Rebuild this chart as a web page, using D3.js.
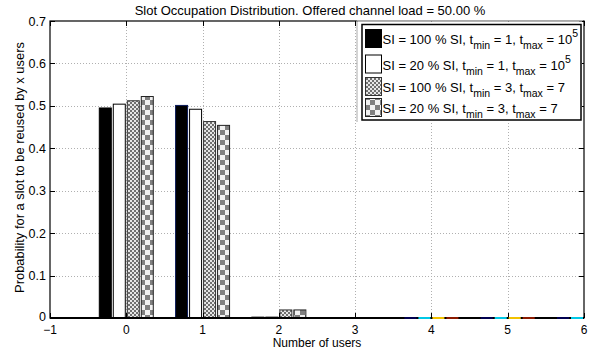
<!DOCTYPE html>
<html><head><meta charset="utf-8">
<script src="https://cdn.jsdelivr.net/npm/d3@7"></script>
<style>body{margin:0;background:#fff}svg{display:block;font-family:"Liberation Sans",Arial,Helvetica,sans-serif}</style>
</head><body><svg id="c" width="601" height="351"></svg>
<script>
const title = "Slot Occupation Distribution. Offered channel load = 50.00 %";
const xLabel = "Number of users";
const yLabel = "Probability for a slot to be reused by x users";
const categories = [0, 1, 2, 3, 4, 5, 6];
const xTicks = [-1, 0, 1, 2, 3, 4, 5, 6];
const yTicks = [0, 0.1, 0.2, 0.3, 0.4, 0.5, 0.6, 0.7];
const sNames = [
  ["SI = 100 % SI, t", "min", " = 1, t", "max", " = 10", "5"],
  ["SI = 20 % SI, t", "min", " = 1, t", "max", " = 10", "5"],
  ["SI = 100 % SI, t", "min", " = 3, t", "max", " = 7", ""],
  ["SI = 20 % SI, t", "min", " = 3, t", "max", " = 7", ""]
];
const s1 = [0.495, 0.501, 0.002, 0, 0, 0, 0];
const s2 = [0.504, 0.492, 0.002, 0, 0, 0, 0];
const s3 = [0.512, 0.463, 0.019, 0.0005, 0, 0, 0];
const s4 = [0.522, 0.454, 0.019, 0.0005, 0, 0, 0];
const series = [s1, s2, s3, s4];
const zeroEdgeColors = ["#000050", "#00c8e6", "#f2c200", "#8c1a00"];

const svg = d3.select("#c");
const L = 50, R = 584, T = 21, B = 318;
const x = d3.scaleLinear().domain([-1, 6]).range([L, R]);
const y = d3.scaleLinear().domain([0, 0.7]).range([B, T]);

const defs = svg.append("defs");
const pf = defs.append("pattern").attr("id", "fine").attr("patternUnits", "userSpaceOnUse").attr("width", 4).attr("height", 4);
pf.append("rect").attr("width", 4).attr("height", 4).attr("fill", "#e6e6e6");
pf.append("rect").attr("width", 2).attr("height", 2).attr("fill", "#707070");
pf.append("rect").attr("x", 2).attr("y", 2).attr("width", 2).attr("height", 2).attr("fill", "#707070");
const pc = defs.append("pattern").attr("id", "coarse").attr("patternUnits", "userSpaceOnUse").attr("width", 10).attr("height", 10);
pc.append("rect").attr("width", 10).attr("height", 10).attr("fill", "#f2f2f2");
pc.append("rect").attr("width", 5).attr("height", 5).attr("fill", "#808080");
pc.append("rect").attr("x", 5).attr("y", 5).attr("width", 5).attr("height", 5).attr("fill", "#808080");
defs.append("clipPath").attr("id", "clip").append("rect").attr("x", L).attr("y", T).attr("width", R - L).attr("height", B - T + 2);

const fills = ["#000", "#fff", "url(#fine)", "url(#coarse)"];
const strokes = ["#000", "#000", "#333", "#222"];

// grid
const grid = svg.append("g").attr("stroke", "#b0b0b0").attr("stroke-width", 1).attr("stroke-dasharray", "1,2");
grid.selectAll(".gx").data(xTicks.slice(1, -1)).join("line")
  .attr("x1", d => Math.round(x(d)) + 0.5).attr("x2", d => Math.round(x(d)) + 0.5).attr("y1", T).attr("y2", B);
grid.selectAll(".gy").data(yTicks.slice(1, -1)).join("line")
  .attr("x1", L).attr("x2", R).attr("y1", d => Math.round(y(d)) + 0.5).attr("y2", d => Math.round(y(d)) + 0.5);

// bars
const barW = 12 / 76.3, step = 14 / 76.3;
const bars = svg.append("g").attr("clip-path", "url(#clip)");
const zeroBars = [];
series.forEach((s, i) => {
  const off = (i - 1.5) * step;
  const data = categories.map((c, k) => ({c, v: s[k], i, off}));
  bars.selectAll(".b" + i).data(data.filter(d => d.v > 0)).join("rect")
    .attr("x", d => x(d.c + off - barW / 2))
    .attr("width", x(barW) - x(0))
    .attr("y", d => y(d.v))
    .attr("height", d => y(0) - y(d.v))
    .attr("fill", fills[i])
    .attr("stroke", d => (i === 0 && d.c === 1 ? "#0a1a5a" : strokes[i]))
    .attr("stroke-width", 1);
  data.filter(d => d.v === 0 && d.c >= 4).forEach(d => zeroBars.push(d));
});

// axes box
const ax = svg.append("g");
ax.append("rect").attr("x", L).attr("y", T).attr("width", R - L).attr("height", B - T)
  .attr("fill", "none").attr("stroke", "#000").attr("stroke-width", 1.2);
ax.append("line").attr("x1", L).attr("x2", R).attr("y1", B).attr("y2", B).attr("stroke", "#000").attr("stroke-width", 2);
const tk = ax.append("g").attr("stroke", "#000").attr("stroke-width", 1);
xTicks.forEach(t => {
  const xx = Math.round(x(t)) + 0.5;
  tk.append("line").attr("x1", xx).attr("x2", xx).attr("y1", B).attr("y2", B - 5);
  tk.append("line").attr("x1", xx).attr("x2", xx).attr("y1", T).attr("y2", T + 5);
});
yTicks.forEach(t => {
  const yy = Math.round(y(t)) + 0.5;
  tk.append("line").attr("x1", L).attr("x2", L + 5).attr("y1", yy).attr("y2", yy);
  tk.append("line").attr("x1", R).attr("x2", R - 5).attr("y1", yy).attr("y2", yy);
});
// zero-height bar edges on the baseline
svg.append("g").attr("clip-path", "url(#clip)").selectAll("rect").data(zeroBars).join("rect")
  .attr("x", d => x(d.c + d.off - barW / 2))
  .attr("width", x(barW) - x(0))
  .attr("y", B - 1).attr("height", 2)
  .attr("fill", d => zeroEdgeColors[d.i]);

ax.selectAll(".xl").data(xTicks).join("text")
  .attr("x", d => x(d)).attr("y", B + 15.5).attr("text-anchor", "middle")
  .attr("font-size", 12).text(d => d < 0 ? "\u2212" + (-d) : d);
ax.selectAll(".yl").data(yTicks).join("text")
  .attr("x", L - 4).attr("y", d => y(d) + (d === 0 ? 3 : 4.5)).attr("text-anchor", "end")
  .attr("font-size", 12.5).text(d => d === 0 ? "0" : d3.format(".1f")(d));

svg.append("text").attr("x", (L + R) / 2).attr("y", 347).attr("text-anchor", "middle").attr("font-size", 12).text(xLabel);
svg.append("text").attr("transform", `translate(24,${167.5}) rotate(-90)`).attr("text-anchor", "middle").attr("font-size", 12.9).text(yLabel);
svg.append("text").attr("x", 310).attr("y", 15).attr("text-anchor", "middle").attr("font-size", 13).text(title);

// legend
const lg = svg.append("g");
lg.append("path").attr("d", `M357,122V20.5H583`).attr("fill", "none").attr("stroke", "#aaa");
lg.append("rect").attr("x", 358).attr("y", 21.5).attr("width", 224).attr("height", 100).attr("fill", "#fff");
lg.append("rect").attr("x", 362).attr("y", 24.5).attr("width", 219).attr("height", 95.5)
  .attr("fill", "#fff").attr("stroke", "#000").attr("stroke-width", 1.5);
const rowY = [29.5, 55, 77.5, 98.5];
sNames.forEach((n, i) => {
  lg.append("rect").attr("x", 365.5).attr("y", rowY[i]).attr("width", 16).attr("height", 18)
    .attr("fill", fills[i]).attr("stroke", strokes[i]).attr("stroke-width", 1);
  const t = lg.append("text").attr("x", 382.5).attr("y", rowY[i] + 14.5).attr("font-size", 13);
  t.append("tspan").text(n[0]);
  t.append("tspan").attr("font-size", 10.5).attr("dy", 5).text(n[1]);
  t.append("tspan").attr("dy", -5).text(n[2]);
  t.append("tspan").attr("font-size", 10.5).attr("dy", 5).text(n[3]);
  t.append("tspan").attr("dy", -5).text(n[4]);
  if (n[5]) t.append("tspan").attr("font-size", 10.5).attr("dy", -7).text(n[5]);
});
</script></body></html>
